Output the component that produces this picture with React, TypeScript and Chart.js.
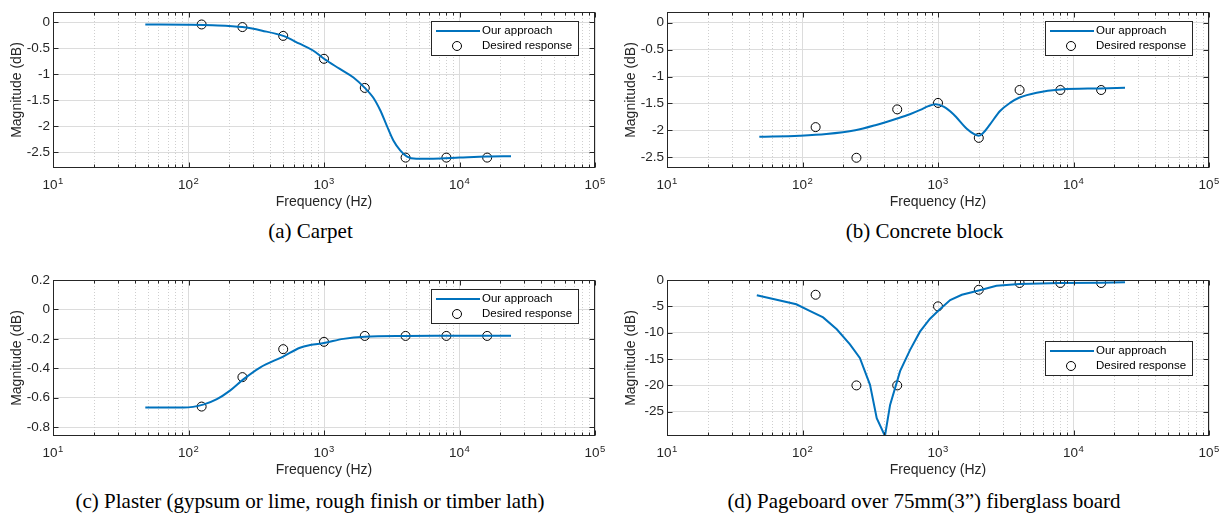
import React, { useEffect, useRef } from "react";
import { Chart, registerables } from "chart.js";

Chart.register(...registerables);

const FONT = '"Liberation Sans", Arial, Helvetica, sans-serif';
const SERIF = '"Liberation Serif", "Times New Roman", Times, serif';
const AXIS_COLOR = "#262626";
const LINE_BLUE = "#0072BD";

// ---------- shared axis data ----------
const xTickValues = [10, 100, 1000, 10000, 100000];
const desiredFreqs = [125, 250, 500, 1000, 2000, 4000, 8000, 16000];

// ---------- (a) Carpet ----------
const carpetFreqs = [48, 100, 150, 250, 350, 500, 660, 830, 1000, 1300, 1650, 2000, 2300, 2600, 2900, 3250, 3650, 4100, 4800, 6400, 10000, 16000, 24000];
const carpetModel = [-0.04, -0.045, -0.055, -0.09, -0.16, -0.26, -0.41, -0.54, -0.7, -0.89, -1.06, -1.26, -1.44, -1.69, -1.98, -2.27, -2.46, -2.58, -2.62, -2.62, -2.6, -2.58, -2.575];
const carpetDesired = [-0.04, -0.09, -0.26, -0.7, -1.26, -2.6, -2.6, -2.6];
const carpetYTicks = [-2.5, -2, -1.5, -1, -0.5, 0];

// ---------- (b) Concrete block ----------
const concreteFreqs = [48, 95, 150, 245, 350, 500, 620, 740, 850, 960, 1100, 1300, 1630, 1850, 2000, 2150, 2420, 2870, 3400, 4000, 5350, 8000, 15700, 24000];
const concreteModel = [-2.12, -2.1, -2.07, -2.0, -1.9, -1.78, -1.7, -1.62, -1.55, -1.515, -1.56, -1.7, -1.97, -2.07, -2.1, -2.05, -1.89, -1.64, -1.49, -1.39, -1.3, -1.24, -1.22, -1.21];
const concreteDesired = [-1.94, -2.51, -1.61, -1.49, -2.14, -1.25, -1.25, -1.25];
const concreteYTicks = [-2.5, -2, -1.5, -1, -0.5, 0];

// ---------- (c) Plaster ----------
const plasterFreqs = [48, 92, 130, 162, 200, 254, 337, 500, 665, 790, 1000, 1390, 2000, 4000, 8000, 16000, 24000];
const plasterModel = [-0.667, -0.667, -0.645, -0.61, -0.555, -0.475, -0.395, -0.32, -0.26, -0.242, -0.228, -0.2, -0.185, -0.18, -0.179, -0.178, -0.178];
const plasterDesired = [-0.66, -0.46, -0.27, -0.22, -0.18, -0.18, -0.18, -0.18];
const plasterYTicks = [-0.8, -0.6, -0.4, -0.2, 0, 0.2];

// ---------- (d) Pageboard ----------
const pageFreqs = [46, 90, 113, 142, 179, 224, 265, 315, 353, 406, 443, 525, 621, 736, 870, 1000, 1230, 1500, 2000, 2700, 4000, 8000, 16000, 24000];
const pageModel = [-2.9, -4.6, -5.85, -7.1, -9.35, -12.2, -14.8, -19.9, -26.2, -29.6, -23.7, -17.3, -13.3, -9.8, -7.4, -5.9, -3.8, -2.8, -2.0, -1.1, -0.76, -0.57, -0.5, -0.45];
const pageDesired = [-2.8, -20, -20, -5, -1.85, -0.57, -0.57, -0.57];
const pageYTicks = [-25, -20, -15, -10, -5, 0];

type PanelProps = {
  left: number;
  top: number;
  width: number;
  height: number;
  plotLeft: number;
  plotRight: number;
  freqs: number[];
  model: number[];
  desired: number[];
  yTicks: number[];
  yMin: number;
  yMax: number;
  legendPos: "ne" | "e";
  smooth: boolean;
};

function makeDecor(legendPos: "ne" | "e") {
  return {
    id: "matlabDecor",
    beforeDatasetsDraw(chart: any) {
      const { ctx, chartArea: ca, scales } = chart;
      const x = scales.x;
      ctx.save();
      ctx.strokeStyle = "#cfcfcf";
      ctx.lineWidth = 1;
      ctx.setLineDash([1, 2]);
      for (let d = 10; d < 100000; d *= 10) {
        for (let m = 2; m <= 9; m++) {
          const px = Math.round(x.getPixelForValue(d * m)) + 0.5;
          ctx.beginPath();
          ctx.moveTo(px, ca.top);
          ctx.lineTo(px, ca.bottom);
          ctx.stroke();
        }
      }
      ctx.restore();
    },
    afterDatasetsDraw(chart: any) {
      const { ctx, chartArea: ca, scales } = chart;
      const x = scales.x;
      const y = scales.y;
      ctx.save();
      ctx.setLineDash([]);
      ctx.strokeStyle = AXIS_COLOR;
      ctx.lineWidth = 1;
      const L = Math.round(ca.left) + 0.5;
      const R = Math.round(ca.right) - 0.5;
      const T = Math.round(ca.top) + 0.5;
      const B = Math.round(ca.bottom) - 0.5;
      // x tick marks (inward, top and bottom)
      for (let d = 10; d <= 100000; d *= 10) {
        for (let m = 1; m <= 9; m++) {
          const v = d * m;
          if (v > 100000) break;
          const len = m === 1 ? 5 : 3;
          const px = Math.round(x.getPixelForValue(v)) + 0.5;
          ctx.beginPath();
          ctx.moveTo(px, B);
          ctx.lineTo(px, B - len);
          ctx.moveTo(px, T);
          ctx.lineTo(px, T + len);
          ctx.stroke();
        }
      }
      // y tick marks (inward, left and right)
      y.ticks.forEach((t: any) => {
        const py = Math.round(y.getPixelForValue(t.value)) + 0.5;
        ctx.beginPath();
        ctx.moveTo(L, py);
        ctx.lineTo(L + 5, py);
        ctx.moveTo(R, py);
        ctx.lineTo(R - 5, py);
        ctx.stroke();
      });
      // box
      ctx.strokeRect(L, T, R - L, B - T);

      // x tick labels 10^n
      ctx.fillStyle = AXIS_COLOR;
      ctx.textBaseline = "alphabetic";
      ctx.textAlign = "left";
      xTickValues.forEach((v) => {
        const px = x.getPixelForValue(v);
        const base = "10";
        const exp = String(Math.round(Math.log10(v)));
        ctx.font = `13.5px ${FONT}`;
        const wb = ctx.measureText(base).width;
        ctx.font = `9.5px ${FONT}`;
        const we = ctx.measureText(exp).width;
        const start = px - (wb + we + 0.5) / 2;
        ctx.font = `13.5px ${FONT}`;
        ctx.fillText(base, start, ca.bottom + 21);
        ctx.font = `9.5px ${FONT}`;
        ctx.fillText(exp, start + wb + 0.5, ca.bottom + 15.5);
      });

      // legend
      const bw = 147;
      const bh = 34;
      const bx = Math.round(ca.right - 17 - bw);
      const by = Math.round(legendPos === "ne" ? ca.top + 8.5 : (ca.top + ca.bottom) / 2 - bh / 2);
      ctx.fillStyle = "#ffffff";
      ctx.fillRect(bx, by, bw, bh);
      ctx.strokeStyle = AXIS_COLOR;
      ctx.lineWidth = 1;
      ctx.strokeRect(bx + 0.5, by + 0.5, bw, bh);
      const ds = chart.data.datasets;
      ctx.strokeStyle = LINE_BLUE;
      ctx.lineWidth = 2;
      ctx.beginPath();
      ctx.moveTo(bx + 5, by + 10);
      ctx.lineTo(bx + 49, by + 10);
      ctx.stroke();
      ctx.strokeStyle = "#000";
      ctx.lineWidth = 1;
      ctx.beginPath();
      ctx.arc(bx + 26, by + 25, 4.5, 0, Math.PI * 2);
      ctx.stroke();
      ctx.fillStyle = "#000";
      ctx.font = `11.5px ${FONT}`;
      ctx.textBaseline = "middle";
      ctx.fillText(ds[0].label, bx + 51, by + 10);
      ctx.fillText(ds[1].label, bx + 51, by + 25);
      ctx.restore();
    },
  };
}

function Panel(p: PanelProps) {
  const ref = useRef<HTMLCanvasElement>(null);
  useEffect(() => {
    const yAxisWidth = p.plotLeft - p.left;
    const padRight = p.left + p.width - p.plotRight;
    const chart = new Chart(ref.current as HTMLCanvasElement, {
      type: "line",
      data: {
        datasets: [
          {
            label: "Our approach",
            data: p.freqs.map((f, i) => ({ x: f, y: p.model[i] })),
            borderColor: LINE_BLUE,
            backgroundColor: LINE_BLUE,
            borderWidth: 2,
            pointRadius: 0,
            fill: false,
            tension: 0,
            cubicInterpolationMode: p.smooth ? "monotone" : "default",
          } as any,
          {
            label: "Desired response",
            data: desiredFreqs.map((f, i) => ({ x: f, y: p.desired[i] })),
            showLine: false,
            pointRadius: 4.5,
            pointBorderWidth: 1,
            pointBorderColor: "#000",
            pointBackgroundColor: "rgba(0,0,0,0)",
            borderColor: "#000",
            backgroundColor: "rgba(0,0,0,0)",
          } as any,
        ],
      },
      options: {
        responsive: false,
        maintainAspectRatio: false,
        animation: false,
        events: [],
        layout: { padding: { left: 0, top: 12, right: padRight, bottom: 0 } },
        plugins: { legend: { display: false }, tooltip: { enabled: false } },
        scales: {
          x: {
            type: "logarithmic",
            min: 10,
            max: 100000,
            position: "bottom",
            afterBuildTicks: (s: any) => {
              s.ticks = xTickValues.map((v) => ({ value: v, major: true }));
            },
            afterFit: (s: any) => {
              s.height = 48;
            },
            grid: { color: "#dcdcdc", lineWidth: 1, drawTicks: false },
            border: { display: false },
            ticks: { display: false },
            title: {
              display: true,
              text: "Frequency (Hz)",
              color: AXIS_COLOR,
              font: { family: FONT, size: 14 },
              padding: { top: 0, bottom: 5 },
            },
          },
          y: {
            type: "linear",
            min: p.yMin,
            max: p.yMax,
            afterBuildTicks: (s: any) => {
              s.ticks = p.yTicks.map((v) => ({ value: v }));
            },
            afterFit: (s: any) => {
              s.width = yAxisWidth;
            },
            grid: { color: "#dcdcdc", lineWidth: 1, drawTicks: false },
            border: { display: false },
            ticks: {
              padding: 3,
              color: AXIS_COLOR,
              font: { family: FONT, size: 13.5 },
              autoSkip: false,
              callback: (v: any) => String(+Number(v).toFixed(2)),
            },
            title: {
              display: true,
              text: "Magnitude (dB)",
              color: AXIS_COLOR,
              font: { family: FONT, size: 14 },
              padding: { top: 9, bottom: 0 },
            },
          },
        },
      } as any,
      plugins: [makeDecor(p.legendPos)],
    });
    return () => chart.destroy();
  }, []);
  return (
    <canvas
      ref={ref}
      width={p.width}
      height={p.height}
      style={{ position: "absolute", left: p.left, top: p.top, width: p.width, height: p.height }}
    />
  );
}

const captionStyle = (left: number, top: number, width: number): React.CSSProperties => ({
  position: "absolute",
  left,
  top,
  width,
  textAlign: "center",
  fontFamily: SERIF,
  fontSize: 21,
  lineHeight: "21px",
  whiteSpace: "nowrap",
  color: "#000",
});

export default function App() {
  return (
    <div
      style={{
        position: "fixed",
        left: 0,
        top: 0,
        width: 1223,
        height: 516,
        background: "#fff",
        overflow: "hidden",
      }}
    >
      <Panel left={0} top={0} width={612} height={216} plotLeft={53} plotRight={595} freqs={carpetFreqs} model={carpetModel} desired={carpetDesired} yTicks={carpetYTicks} yMin={-2.8} yMax={0.2} legendPos="ne" smooth={true} />
      <Panel left={614} top={0} width={609} height={216} plotLeft={667} plotRight={1209} freqs={concreteFreqs} model={concreteModel} desired={concreteDesired} yTicks={concreteYTicks} yMin={-2.7} yMax={0.2} legendPos="ne" smooth={true} />
      <Panel left={0} top={268} width={612} height={216} plotLeft={53} plotRight={595} freqs={plasterFreqs} model={plasterModel} desired={plasterDesired} yTicks={plasterYTicks} yMin={-0.86} yMax={0.2} legendPos="ne" smooth={true} />
      <Panel left={614} top={268} width={609} height={216} plotLeft={667} plotRight={1209} freqs={pageFreqs} model={pageModel} desired={pageDesired} yTicks={pageYTicks} yMin={-29.6} yMax={0} legendPos="e" smooth={false} />
      <div style={captionStyle(0, 221, 621)}>(a) Carpet</div>
      <div style={captionStyle(614, 221, 621)}>(b) Concrete block</div>
      <div style={captionStyle(0, 491, 620)}>(c) Plaster (gypsum or lime, rough finish or timber lath)</div>
      <div style={captionStyle(614, 491, 620)}>(d) Pageboard over 75mm(3”) fiberglass board</div>
    </div>
  );
}
